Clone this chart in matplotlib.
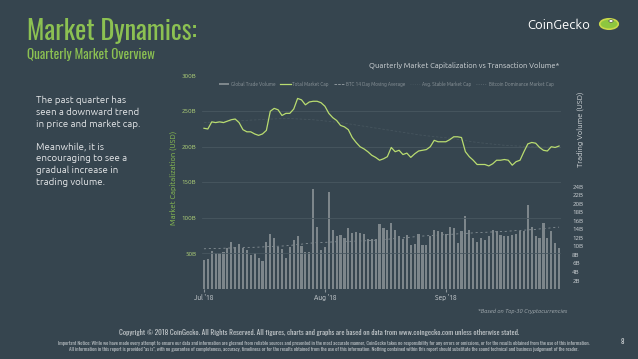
import matplotlib
matplotlib.use("Agg")
import matplotlib.pyplot as plt
from matplotlib.lines import Line2D
from matplotlib.patches import Patch, Circle
import pandas as pd

# --- data ---
dates = pd.date_range("2018-07-01", "2018-09-30", freq="D")

market_cap = [226, 225, 235, 234, 235, 234, 236, 238, 239, 234,
              224, 221, 221, 218, 216, 218, 223, 250, 254, 252,
              244, 247, 247, 253, 268, 266, 259, 263, 264, 264,
              262, 257, 247, 241, 237, 230, 228, 224, 213, 206,
              200, 197, 193, 188, 185, 181, 183, 186, 199, 193,
              195, 189, 191, 185, 190, 194, 195, 196, 200, 209,
              207, 207, 207, 210, 214, 214, 213, 193, 186, 181,
              175, 175, 175, 173, 176, 181, 181, 182, 181, 174,
              179, 181, 193, 204, 206, 205, 199, 195, 194, 200,
              199, 201]  # billions USD

volume = [6.8, 7.0, 8.9, 8.5, 8.5, 8.7, 9.5, 11.1, 9.9, 10.5,
          9.5, 9.1, 8.0, 8.5, 7.2, 6.6, 11.1, 12.9, 11.9, 9.9,
          9.3, 7.2, 9.8, 11.4, 12.3, 10.1, 8.7, 8.7, 23.5, 14.6,
          9.1, 9.8, 22.7, 13.9, 12.5, 12.7, 11.9, 14.3, 13.1, 13.3,
          13.1, 12.9, 11.7, 11.7, 11.7, 15.2, 14.3, 13.9, 15.5, 13.9,
          12.5, 11.7, 12.7, 10.3, 10.5, 12.9, 10.4, 10.3, 12.3, 13.9,
          13.6, 13.3, 12.9, 14.5, 14.3, 10.7, 13.6, 17.1, 13.9, 11.9,
          11.1, 11.9, 11.5, 12.5, 13.8, 13.6, 12.7, 12.3, 12.5, 12.7,
          12.9, 13.6, 13.6, 19.7, 14.5, 12.3, 11.9, 15.5, 11.9, 13.6,
          10.7, 9.5]  # billions USD

avg_dates = pd.to_datetime(["2018-07-01", "2018-07-08", "2018-07-15", "2018-07-22",
                            "2018-07-29", "2018-08-05", "2018-08-12", "2018-08-19",
                            "2018-08-26", "2018-09-02", "2018-09-09", "2018-09-16",
                            "2018-09-23", "2018-09-30"])
avg_volume = [9.4, 9.6, 9.8, 10.1, 10.8, 11.1, 11.3, 11.8, 12.4, 12.8, 13.2, 13.5, 13.9, 14.5]
avg_cap = [234, 236, 238, 240, 238, 234, 228, 222, 216, 212, 206, 202, 200, 199]

cap_ticks = [50, 100, 150, 200, 250, 300]
vol_ticks = [2, 4, 6, 8, 10, 12, 14, 16, 18, 20, 22, 24]
month_ticks = pd.to_datetime(["2018-07-01", "2018-08-01", "2018-09-01"])
month_labels = ["Jul '18", "Aug '18", "Sep '18"]

legend_labels = ["Global Trade Volume", "Total Market Cap", "BTC 14 Day Moving Average",
                 "Avg. Stable Market Cap", "Bitcoin Dominance Market Cap"]

# --- colours ---
bg = "#36454f"
green = "#8cc152"
cap_line = "#b9dc70"
bar_col = "#7d868b"
txt = "#d5d9dc"
head = ["Oswald", "DejaVu Sans"]
body = ["Ubuntu", "DejaVu Sans"]

fig = plt.figure(figsize=(6.38, 3.59), dpi=100, facecolor=bg)

# headline
fig.text(27 / 638, 1 - 31 / 359, "Market Dynamics:", color=green, fontsize=19,
         family=head, va="center", ha="left")
fig.text(27 / 638, 1 - 54 / 359, "Quarterly Market Overview", color=green, fontsize=9.5,
         family=head, va="center", ha="left")

# logo
fig.text(590 / 638, 1 - 25 / 359, "CoinGecko", color="white", fontsize=9.5,
         family=body, va="center", ha="right")
logo = Circle((609 / 638, 1 - 24 / 359), 0.0145, transform=fig.transFigure,
              facecolor="#8dc63f", edgecolor="#c9d94a", lw=1.2)
fig.patches.append(logo)
eye = Circle((611 / 638, 1 - 21 / 359), 0.0035, transform=fig.transFigure,
             facecolor="white", edgecolor="#333333", lw=0.4)
fig.patches.append(eye)

# left commentary
para = ("The past quarter has\nseen a downward trend\nin price and market cap.\n\n"
        "Meanwhile, it is\nencouraging to see a\ngradual increase in\ntrading volume.")
fig.text(36 / 638, 1 - 96 / 359, para, color="#e6e8ea", fontsize=7, family=body,
         va="top", ha="left", linespacing=1.3)

# chart
ax = fig.add_axes([202 / 638, 1 - 288.8 / 359, 359 / 638, 213.1 / 359])
ax.set_facecolor("none")
ax2 = ax.twinx()

ax2.bar(dates, volume, width=0.55, color=bar_col, zorder=2)
ax2.plot(avg_dates, avg_volume, color="#aeb5b9", lw=0.5, ls=(0, (3, 4)), alpha=0.8, zorder=1)
ax2.set_ylim(0, 50.1)

ax.plot(avg_dates, avg_cap, color="#46555e", lw=0.6, ls=(0, (3, 2)), zorder=1)
ax.plot(dates, market_cap, color=cap_line, lw=0.9, zorder=3)
ax.set_ylim(0, 300)
ax.set_xlim(dates[0] - pd.Timedelta(hours=12), dates[-1] + pd.Timedelta(hours=12))
ax.set_zorder(ax2.get_zorder() + 1)
ax.patch.set_visible(False)

for y in cap_ticks[:-1]:
    ax.axhline(y, color="#485760", lw=0.6, zorder=0)

ax.set_yticks(cap_ticks)
ax.set_yticklabels([f"{v}B" for v in cap_ticks], family=body)
ax.tick_params(axis="y", length=0, labelsize=4.5, labelcolor="#b6d97a", pad=4)
ax.set_xticks(month_ticks)
ax.set_xticklabels(month_labels, family=body)
ax.tick_params(axis="x", length=2, color="#8a9398", labelsize=4.8, labelcolor=txt, pad=2)

ax2.set_yticks(vol_ticks)
ax2.set_yticklabels([f"{v}B" for v in vol_ticks], family=body)
ax2.tick_params(axis="y", length=0, labelsize=4.5, labelcolor=txt, pad=8)

for a in (ax, ax2):
    for s in a.spines.values():
        s.set_visible(False)

fig.text(173 / 638, 1 - 178 / 359, "Market Capitalization (USD)", color=green, fontsize=5.5,
         rotation=90, va="center", ha="center", family=body)
fig.text(580 / 638, 1 - 129 / 359, "Trading Volume (USD)", color=txt, fontsize=5.5,
         rotation=90, va="center", ha="center", family=body)
fig.text(464 / 638, 1 - 65 / 359, "Quarterly Market Capitalization vs Transaction Volume*",
         color=txt, fontsize=5.5, va="center", ha="center", family=body)

handles = [Patch(facecolor=bar_col),
           Line2D([], [], color=cap_line, lw=0.9),
           Line2D([], [], color="#aeb5b9", lw=0.5, ls="--"),
           Line2D([], [], color="#46555e", lw=0.6, ls=":"),
           Line2D([], [], color="#5d6a72", lw=0.6, ls=":")]
fig.legend(handles, legend_labels, loc="center", bbox_to_anchor=(386 / 638, 1 - 84 / 359),
           ncol=5, frameon=False, labelcolor="#8f989d",
           prop={"family": body, "size": 3.4},
           handlelength=2.2, handleheight=0.5, columnspacing=1.0, handletextpad=0.4)

fig.text(567 / 638, 1 - 311 / 359, "*Based on Top-30 Cryptocurrencies", color="#aab2b7",
         fontsize=4.2, style="italic", ha="right", va="center", family=body)

# footer
fig.text(319 / 638, 1 - 333 / 359,
         "Copyright \u00a9 2018 CoinGecko. All Rights Reserved. All figures, charts and graphs are "
         "based on data from www.coingecko.com unless otherwise stated.",
         color="#c4c9cc", fontsize=5.3, ha="center", va="center", family=head)
fig.text(324 / 638, 1 - 343 / 359,
         "Important Notice: While we have made every attempt to ensure our data and information are "
         "gleaned from reliable sources and presented in the most accurate manner, CoinGecko takes no "
         "responsibility for any errors or omissions, or for the results obtained from the use of this information.",
         color="#b9bfc3", fontsize=3.7, ha="center", va="center", family=head)
fig.text(324 / 638, 1 - 349.5 / 359,
         "All information in this report is provided \"as is\", with no guarantee of completeness, accuracy, "
         "timeliness or for the results obtained from the use of this information. Nothing contained within "
         "this report should substitute the sound technical and business judgement of the reader.",
         color="#b9bfc3", fontsize=3.7, ha="center", va="center", family=head)
fig.text(622 / 638, 1 - 341 / 359, "8", color="#d5d9dc", fontsize=5, ha="center", va="center",
         family=head)

fig.savefig("out.png", dpi=100, facecolor=bg)
